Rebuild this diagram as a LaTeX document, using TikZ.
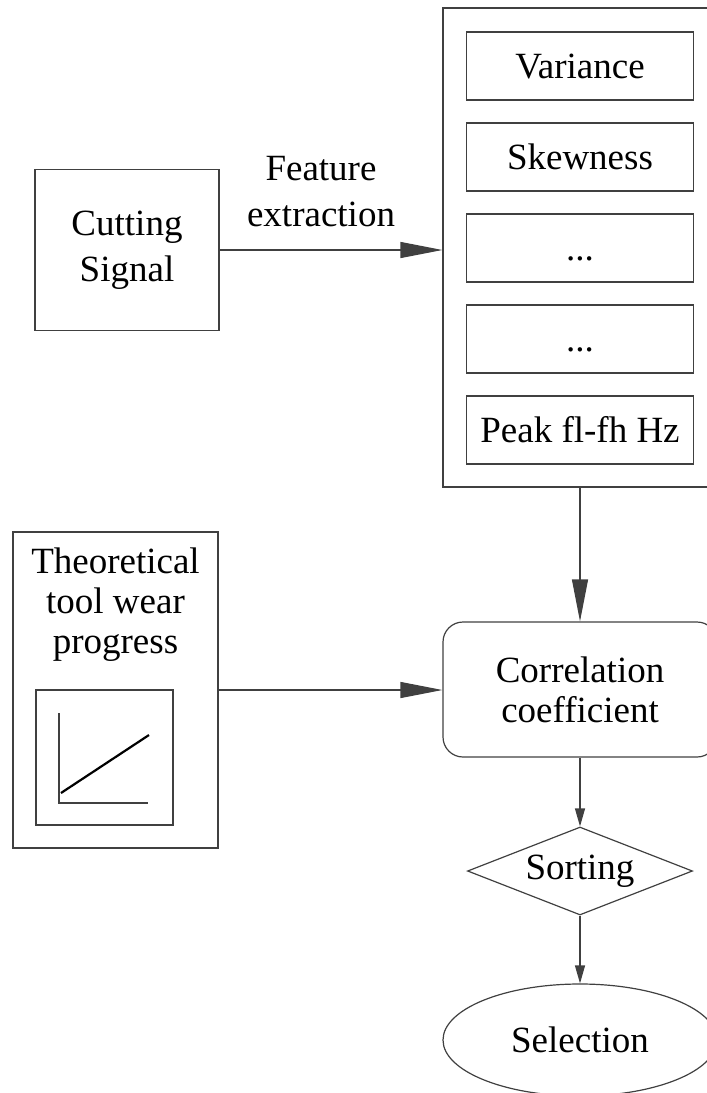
\documentclass[tikz,border=0pt]{standalone}
\usepackage{fontspec}
\setmainfont{Liberation Serif}
\usetikzlibrary{
  arrows.meta,      % Triangle 箭头
  shapes.geometric, % 菱形与椭圆
  positioning       % 节点相对定位
}

\tikzset{
  box/.style={draw=black!75, line width=0.6pt, inner sep=0pt, align=center},
  featbox/.style={box, minimum width=113.5pt, minimum height=34pt, text height=13pt, text depth=1pt},
  bigarrow/.style={-{Triangle[length=21pt, width=8pt]}, draw=black!75, line width=0.6pt},
  smallarrow/.style={-{Triangle[length=9pt, width=5pt]}, draw=black!75, line width=0.6pt}
}

\begin{document}
\begin{tikzpicture}[x=0.5pt, y=-0.5pt, font=\fontsize{18.5}{20}\selectfont]
  % 画布范围（原点在左上角）
  \useasboundingbox (0,0) rectangle (707,1093);
  \clip (0,0) rectangle (707,1093);

  % 切削信号
  \node[box, minimum width=92pt, minimum height=80.5pt] (sig) at (127,250) {Cutting\\[3pt]Signal};

  % 特征框及其中各项特征
  \node[box, minimum width=137pt, minimum height=239.5pt] (feat) at (580,247.5) {};
  \node[featbox] (f1) at (580,66) {Variance};
  \node[featbox] (f2) at (580,157) {Skewness};
  \node[featbox] (f3) at (580,248) {...};
  \node[featbox] (f4) at (580,339) {...};
  \node[featbox] (f5) at (580,430) {Peak fl-fh Hz};

  % 特征提取
  \draw[bigarrow] (sig.east) -- (feat.west |- sig.east);
  \node[align=center] (fx) at (321,192) {Feature\\[3pt]extraction};

  % 相关系数
  \node[box, rounded corners=10pt, minimum width=137pt, minimum height=67.5pt] (corr) at (580,689.5) {Correlation\\coefficient};
  \draw[bigarrow] (feat.south) -- (corr.north);

  % 理论刀具磨损曲线
  \node[box, minimum width=102.5pt, minimum height=158pt] (theo) at (115.5,690) {};
  \node[align=center, anchor=north, inner sep=0pt] (theotxt) at ([yshift=-8pt]theo.north) {Theoretical\\tool wear\\progress};
  \node[box, minimum width=68.5pt, minimum height=67.5pt] (plot) at (104.5,757.5) {};
  \draw[draw=black!75, line width=0.6pt] (59,713) -- (59,803) -- (148,803);
  \draw[line width=1.1pt] (61,793) -- (149,735);
  \draw[bigarrow] (theo.east) -- (theo.east -| corr.west);

  % 排序与选择
  \node[box, diamond, aspect=2.5, minimum width=112.5pt, minimum height=44pt] (sort) at (580,871) {Sorting};
  \node[box, ellipse, minimum width=137pt, minimum height=56pt] (sel) at (580,1040) {Selection};
  \draw[smallarrow] (corr) -- (sort);
  \draw[smallarrow] (sort) -- (sel);
\end{tikzpicture}
\end{document}
